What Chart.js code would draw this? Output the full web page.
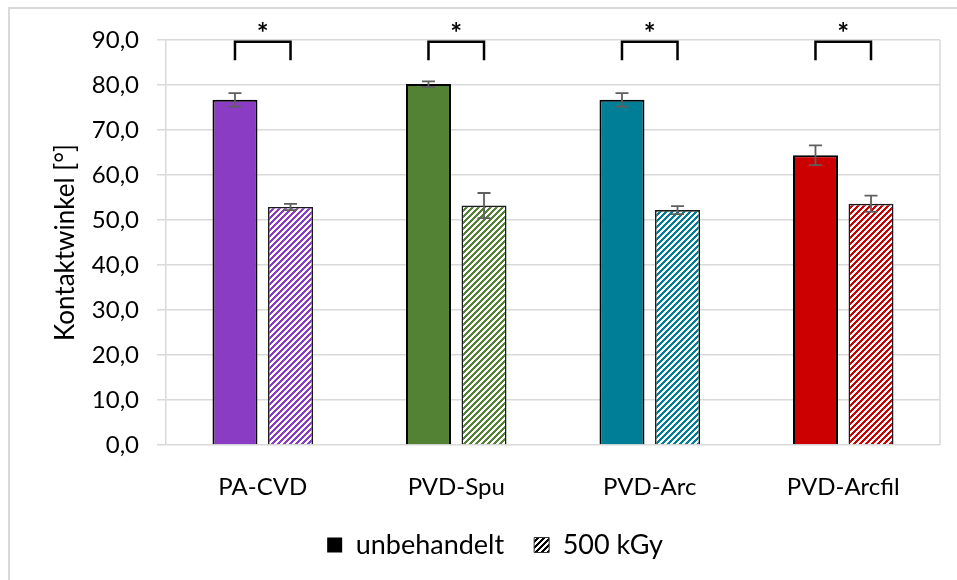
<!DOCTYPE html>
<html>
<head>
<meta charset="utf-8">
<script src="https://cdn.jsdelivr.net/npm/chart.js@4.4.1/dist/chart.umd.min.js"></script>
<style>
  html, body { margin: 0; padding: 0; background: #fff; overflow: hidden; }
  #wrap { position: relative; width: 957px; height: 580px; }
  #frame { position: absolute; left: 8px; top: 7px; width: 1000px; height: 1000px;
           border: 2px solid #d9d9d9; box-sizing: border-box; }
  canvas { position: absolute; left: 0; top: 0; }
</style>
</head>
<body>
<div id="wrap">
  <div id="frame"></div>
  <canvas id="chart" width="957" height="580"></canvas>
</div>
<script>
// Contact angle per coating, untreated vs. irradiated with 500 kGy
const categories = ['PA-CVD', 'PVD-Spu', 'PVD-Arc', 'PVD-Arcfil'];
const seriesLabels = ['unbehandelt', '500 kGy'];
const untreated = [76.7, 80.2, 76.7, 64.4];
const untreatedErr = [1.5, 0.6, 1.5, 2.2];
const irradiated = [52.9, 53.2, 52.2, 53.6];
const irradiatedErr = [0.7, 2.8, 0.9, 1.8];
const significant = [true, true, true, true];
const coatingColors = ['#8a3cc4', '#548235', '#007e98', '#cc0000'];
const yMin = 0, yMax = 90, yStep = 10;
const bracketTop = 89.6, bracketFoot = 85.5;

const FONT = 'Lato, "Open Sans", sans-serif';
const font = { family: FONT, size: 24 };
const titleFont = { family: FONT, size: 26 };
const legendFont = { family: FONT, size: 27 };

// diagonal stripe fill ("/" direction) for the irradiated series
function hatch(color) {
  const n = 6;
  const c = document.createElement('canvas');
  c.width = c.height = n;
  const g = c.getContext('2d');
  g.fillStyle = '#fff';
  g.fillRect(0, 0, n, n);
  g.fillStyle = color;
  for (let x = 0; x < n; x++)
    for (let y = 0; y < n; y++)
      if ((x + y) % n < 3) g.fillRect(x, y, 1, 1);
  return g.createPattern(c, 'repeat');
}

const errorBars = {
  id: 'errorBars',
  afterDatasetsDraw(chart) {
    const { ctx } = chart;
    const y = chart.scales.y;
    const errs = [untreatedErr, irradiatedErr];
    const vals = [untreated, irradiated];
    ctx.save();
    ctx.strokeStyle = '#5f5f5f';
    ctx.lineWidth = 1.8;
    errs.forEach((err, d) => {
      chart.getDatasetMeta(d).data.forEach((bar, i) => {
        const top = y.getPixelForValue(vals[d][i] + err[i]);
        const bot = y.getPixelForValue(vals[d][i] - err[i]);
        const w = 6.5;
        ctx.beginPath();
        ctx.moveTo(bar.x, top); ctx.lineTo(bar.x, bot);
        ctx.moveTo(bar.x - w, top); ctx.lineTo(bar.x + w, top);
        ctx.moveTo(bar.x - w, bot); ctx.lineTo(bar.x + w, bot);
        ctx.stroke();
      });
    });
    ctx.restore();
  }
};

const brackets = {
  id: 'brackets',
  afterDraw(chart) {
    const { ctx } = chart;
    const y = chart.scales.y;
    const m0 = chart.getDatasetMeta(0), m1 = chart.getDatasetMeta(1);
    const yt = y.getPixelForValue(bracketTop);
    const yb = y.getPixelForValue(bracketFoot);
    ctx.save();
    ctx.strokeStyle = '#000';
    ctx.lineWidth = 2.5;
    ctx.fillStyle = '#000';
    ctx.font = 'bold 28px ' + FONT;
    ctx.textAlign = 'center';
    ctx.textBaseline = 'alphabetic';
    significant.forEach((s, i) => {
      if (!s) return;
      const x1 = m0.data[i].x, x2 = m1.data[i].x;
      ctx.beginPath();
      ctx.moveTo(x1, yb); ctx.lineTo(x1, yt); ctx.lineTo(x2, yt); ctx.lineTo(x2, yb);
      ctx.stroke();
      ctx.fillText('*', (x1 + x2) / 2, yt + 1);
    });
    ctx.restore();
  }
};

const plotFrame = {
  id: 'plotFrame',
  afterDatasetsDraw(chart) {
    const { ctx, chartArea } = chart;
    ctx.save();
    ctx.strokeStyle = '#d9d9d9';
    ctx.lineWidth = 1.5;
    ctx.beginPath();
    ctx.moveTo(chartArea.right, chartArea.top);
    ctx.lineTo(chartArea.right, chartArea.bottom);
    ctx.stroke();
    ctx.restore();
  }
};

new Chart(document.getElementById('chart'), {
  type: 'bar',
  data: {
    labels: categories,
    datasets: [
      {
        label: seriesLabels[0],
        data: untreated,
        backgroundColor: coatingColors,
        borderColor: '#000',
        borderWidth: 2,
        categoryPercentage: 0.574,
        barPercentage: 0.81
      },
      {
        label: seriesLabels[1],
        data: irradiated,
        backgroundColor: coatingColors.map(hatch),
        borderColor: '#1a1a1a',
        borderWidth: 1.6,
        categoryPercentage: 0.574,
        barPercentage: 0.81
      }
    ]
  },
  options: {
    responsive: false,
    animation: false,
    devicePixelRatio: 1,
    layout: { padding: { left: 50, right: 17, top: 40, bottom: 11.5 } },
    plugins: {
      tooltip: { enabled: false },
      legend: {
        position: 'bottom',
        onClick: null,
        labels: {
          font: legendFont,
          color: '#000',
          boxWidth: 15,
          boxHeight: 15,
          padding: 30,
          generateLabels() {
            return [
              { text: seriesLabels[0], fillStyle: '#000', strokeStyle: '#000', lineWidth: 0, datasetIndex: 0 },
              { text: seriesLabels[1], fillStyle: hatch('#000'), strokeStyle: '#333', lineWidth: 1, datasetIndex: 1 }
            ];
          }
        }
      }
    },
    scales: {
      x: {
        grid: { display: false, drawTicks: false },
        border: { display: false },
        ticks: { font: font, color: '#000', padding: 28 },
        afterFit(s) { s.height = 56.5; }
      },
      y: {
        min: yMin,
        max: yMax,
        ticks: {
          stepSize: yStep,
          font: font,
          color: '#000',
          padding: 18,
          callback: v => v.toFixed(1).replace('.', ',')
        },
        grid: { color: '#d9d9d9', lineWidth: 1.5, tickLength: 9 },
        border: { color: '#d9d9d9', width: 1.5 },
        title: { display: true, text: 'Kontaktwinkel [°]', font: titleFont, color: '#000', padding: { top: 0, bottom: 0 } },
        afterFit(s) { s.width = 116; }
      }
    }
  },
  plugins: [errorBars, brackets, plotFrame]
});
</script>
</body>
</html>
